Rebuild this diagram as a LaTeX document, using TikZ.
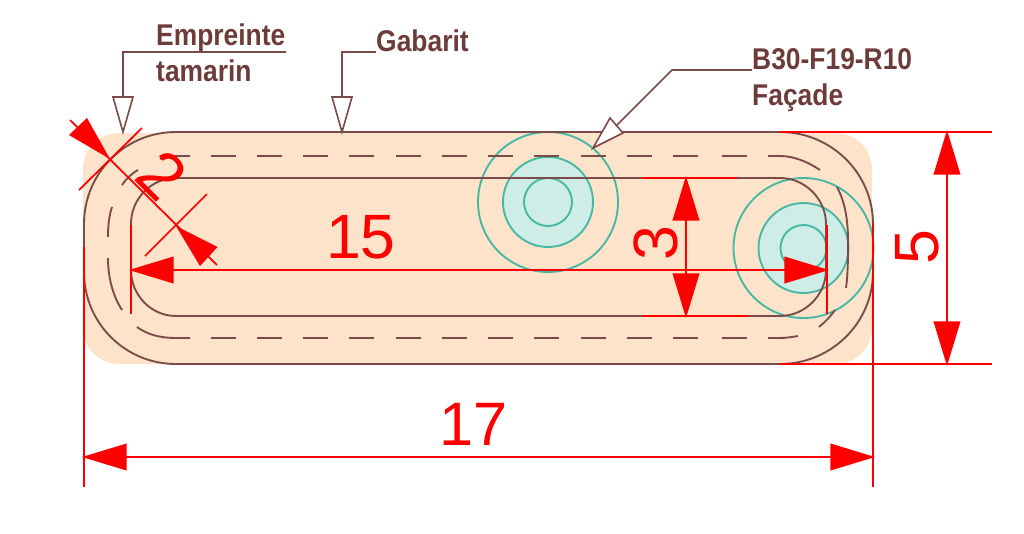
\documentclass[tikz,border=0pt]{standalone}
\usepackage{fontspec}
\setmainfont{Liberation Sans}
\usetikzlibrary{arrows.meta}
\definecolor{bgpeach}{HTML}{FDE3CA}
\definecolor{brownline}{HTML}{7D4A4A}
\definecolor{browntext}{HTML}{6E3B3B}
\definecolor{tealline}{HTML}{45B8A5}
\definecolor{tealfill}{HTML}{CDEDE6}
\definecolor{dimred}{HTML}{FF0000}
\tikzset{
  outline/.style={draw=brownline,line width=1.4pt},
  dashpart/.style={draw=brownline,line width=1.4pt},
  circ/.style={draw=tealline,line width=1.4pt},
  dimline/.style={draw=dimred,line width=1.3pt},
  dimarrow/.style={dimline,{Triangle[length=33.5pt,width=20pt,sep=-1.5pt,fill=dimred]}-{Triangle[length=33.5pt,width=20pt,sep=-1.5pt,fill=dimred]}},
  leader/.style={draw=brownline,line width=1.2pt},
  hollow/.style={draw=brownline,line width=1.2pt,fill=white,line join=miter},
  dimtext/.style={text=dimred,inner sep=0pt,font=\fontsize{47}{47}\selectfont},
  note/.style={text=browntext,inner sep=0pt,anchor=base west,font=\fontsize{22.5}{26}\selectfont\bfseries,xscale=0.88}
}
\begin{document}
\begin{tikzpicture}[x=0.75pt,y=-0.75pt]
\useasboundingbox (0,0) rectangle (1024,533);
% peach background
\fill[bgpeach,rounded corners=27pt] (83,133) rectangle (872,364);
% discs and circles
\fill[tealfill] (548,202) circle[radius=45];
\fill[tealfill] (803.5,248) circle[radius=45];
\draw[circ] (548,202) circle[radius=70];
\draw[circ] (548,202) circle[radius=45];
\draw[circ] (548,202) circle[radius=24];
\draw[circ] (803.5,248) circle[radius=70];
\draw[circ] (803.5,248) circle[radius=45];
\draw[circ] (803.5,248) circle[radius=23];
% outer outline
\draw[outline] (176,132) -- (780,132)
  .. controls (831,132) and (873,173) .. (873,224) -- (873,272)
  .. controls (873,323) and (831,364) .. (780,364) -- (176,364)
  .. controls (125,364) and (84,323) .. (84,272) -- (84,224)
  .. controls (84,173) and (125,132) .. (176,132) -- cycle;
% inner outline
\draw[outline] (176,178) -- (780,178)
  .. controls (805,178) and (826,199) .. (826,224) -- (826,270)
  .. controls (826,295) and (805,316) .. (780,316) -- (176,316)
  .. controls (151,316) and (131,295) .. (131,270) -- (131,224)
  .. controls (131,199) and (151,178) .. (176,178) -- cycle;
% dashed middle outline, straight parts
\foreach \xa in {211,257,303,349,396,442,488,534,581,627,673,722}{
  \draw[dashpart] (\xa,156) -- ++(25,0);
  \draw[dashpart] (\xa,338) -- ++(25,0);
}
% dashed middle outline, corners
\draw[dashpart] (190,156) -- (176,156) .. controls (170,156) and (165,157) .. (160,159);
\draw[dashpart] (138,170) .. controls (131,174) and (126,179) .. (122,185);
\draw[dashpart] (112,207) .. controls (109,216) and (108,226) .. (108,237);
\draw[dashpart] (108,258) .. controls (108,278) and (113,296) .. (122,310);
\draw[dashpart] (137,327) .. controls (148,335) and (161,338) .. (176,338) -- (190,338);
\draw[dashpart] (768,156) -- (780,156) .. controls (794,156) and (808,162) .. (820,170);
\draw[dashpart] (837,187) .. controls (845,202) and (848,220) .. (848,240) .. controls (848,258) and (848,274) .. (846,288);
\draw[dashpart] (819,327) .. controls (825,322) and (830,317) .. (835,310);
\draw[dashpart] (768,338) -- (780,338) .. controls (786,338) and (792,337) .. (798,336);
% leaders
\coordinate (empEnd) at (286,52);
\coordinate (empBend) at (123,52);
\coordinate (empBase) at (123,97);
\coordinate (empTip) at (123,132);
\draw[leader] (empEnd) -- (empBend) -- (empBase);
\draw[hollow] (113,97) -- (133,97) -- (empTip) -- cycle;
\coordinate (gabEnd) at (376,52);
\coordinate (gabBend) at (342,52);
\coordinate (gabBase) at (342,97);
\coordinate (gabTip) at (342,132);
\draw[leader] (gabEnd) -- (gabBend) -- (gabBase);
\draw[hollow] (332,97) -- (352,97) -- (gabTip) -- cycle;
\coordinate (facEnd) at (752,70);
\coordinate (facBend) at (672,70);
\coordinate (facBase) at (616.5,125.5);
\coordinate (facTip) at (593,148);
\draw[leader] (facEnd) -- (facBend) -- (facBase);
\draw[hollow] (610,118) -- (623,133) -- (facTip) -- cycle;
% extension lines
\coordinate (d15a) at (131,270);
\coordinate (d15b) at (827,270);
\draw[dimline] (131,225) -- (131,314);
\draw[dimline] (827,225) -- (827,314);
\draw[dimarrow] (d15a) -- (d15b);
\coordinate (d17a) at (84,457);
\coordinate (d17b) at (873,457);
\draw[dimline] (84,247) -- (84,487);
\draw[dimline] (873,223) -- (873,487);
\draw[dimarrow] (d17a) -- (d17b);
\coordinate (d5a) at (947,132);
\coordinate (d5b) at (947,364);
\draw[dimline] (780,132) -- (992,132);
\draw[dimline] (780,364) -- (992,364);
\draw[dimarrow] (d5a) -- (d5b);
\coordinate (d3a) at (686,178);
\coordinate (d3b) at (686,316);
\draw[dimline] (642,178) -- (737,178);
\draw[dimline] (642,316) -- (749,316);
\draw[dimarrow] (d3a) -- (d3b);
% diagonal dimension 2
\coordinate (d2a) at (110,159);
\coordinate (d2b) at (176,226);
\coordinate (d2c) at (70,120);
\coordinate (d2d) at (217,265);
\draw[dimline] (79,190) -- (142,128);
\draw[dimline] (145,256) -- (207,194);
\draw[dimline] (d2c) -- (d2d);
\fill[dimred] (d2a) -- (87,118) -- (69,135) -- cycle;
\fill[dimred] (d2b) -- (217.5,247) -- (200,266) -- cycle;
% dimension texts
\node[dimtext] (t15) at (361,237) {15};
\node[dimtext,font=\fontsize{46}{46}\selectfont] (t17) at (474,424) {17};
\node[dimtext,rotate=90] (t3) at (656,243) {3};
\node[dimtext,rotate=90] (t5) at (917,247) {5};
\node[dimtext,rotate=-45,font=\fontsize{50}{50}\selectfont] (t2) at (162,175) {2};
% notes
\node[note] (n1) at (156,45) {Empreinte};
\node[note] (n2) at (156,81.5) {tamarin};
\node[note] (n3) at (376,51) {Gabarit};
\node[note] (n4) at (752,69) {B30-F19-R10};
\node[note] (n5) at (752,105.5) {Façade};
\end{tikzpicture}
\end{document}
